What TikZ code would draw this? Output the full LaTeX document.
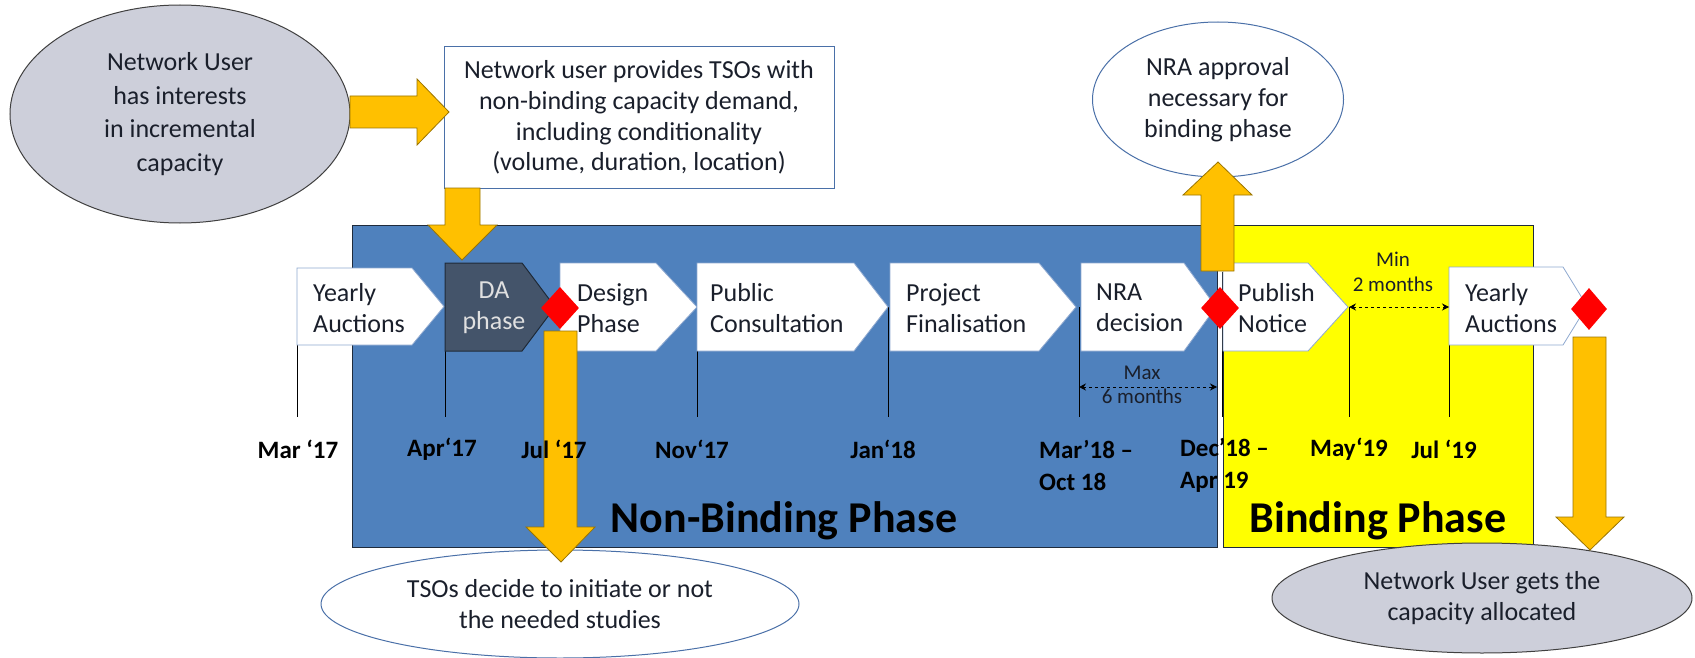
\documentclass[tikz,border=0pt]{standalone}
\usepackage{fontspec}
\setmainfont{Carlito}
\usetikzlibrary{shapes.geometric,arrows.meta}

\definecolor{nbblue}{HTML}{4F81BD}
\definecolor{bphase}{HTML}{FFFF00}
\definecolor{gold}{HTML}{FFC000}
\definecolor{goldedge}{HTML}{9A7400}
\definecolor{slate}{HTML}{44546A}
\definecolor{slateedge}{HTML}{1F2A38}
\definecolor{lilac}{HTML}{CDCFDA}
\definecolor{outline}{HTML}{4A70A8}
\definecolor{ink}{HTML}{1A1F2B}
\definecolor{chevedge}{HTML}{8FA9D0}
\definecolor{paneledge}{HTML}{1F2B3C}

\newcommand\fsz[2]{\fontsize{#1}{#2}\selectfont}
% pentagon step: left x, shoulder x, tip x, top y, bottom y, style
\newcommand\homeplate[6]{%
  \path[#6] (#1,#4) -- (#2,#4) -- (#3,{(#4+#5)/2}) -- (#2,#5) -- (#1,#5) -- cycle;}

\begin{document}
\begin{tikzpicture}[x=1pt,y=-1pt,
  every node/.style={text=ink},
  stepbox/.style={fill=white, draw=chevedge, line width=0.8pt, line join=miter},
  chevtxt/.style={font=\fsz{26}{31}, align=left, anchor=west, inner sep=0pt},
  datetxt/.style={font=\bfseries\fsz{25}{32}, text=black, inner sep=0pt},
  smalltxt/.style={font=\fsz{21}{24}, align=center, inner sep=0pt},
  phasetxt/.style={font=\bfseries\fsz{44}{50}, text=black, inner sep=0pt},
  bubble/.style={ellipse, inner sep=0pt, font=\fsz{26}{31}, align=center, line width=1pt},
  blockarrow/.style={fill=gold, draw=goldedge, line width=0.8pt, line join=miter},
  gate/.style={diamond, fill=red, draw=none, inner sep=0pt, minimum width=38pt, minimum height=42pt},
  tick/.style={draw=black, line width=1pt},
  span/.style={dashed, line width=1pt, {Stealth[length=7pt,width=7pt]}-{Stealth[length=7pt,width=7pt]}}
]
\useasboundingbox (0,0) rectangle (1695,658);

% phase panels
\path[fill=nbblue, draw=paneledge, line width=1pt] (352,225) rectangle (1217,547);
\path[fill=bphase, draw=paneledge, line width=1pt] (1223,225) rectangle (1533,547);

% timeline ticks
\foreach \x/\t in {297/268, 445/307, 697/307, 888/307, 1079/307, 1222/272, 1349/307, 1449/307}
  \draw[tick] (\x,\t) -- (\x,417);

% process steps
\homeplate{297}{412}{444}{268}{345}{stepbox}
\homeplate{445}{522}{555}{263}{351}{fill=slate, draw=slateedge, line width=1pt}
\homeplate{560}{656}{697}{263}{351}{stepbox}
\homeplate{697}{854}{888}{263}{351}{stepbox}
\homeplate{890}{1039}{1076}{263}{351}{stepbox}
\homeplate{1081}{1184}{1216}{263}{351}{stepbox}
\homeplate{1223}{1308}{1348}{263}{351}{stepbox}
\homeplate{1449}{1563}{1587}{267}{345}{stepbox}

\node[chevtxt] (ya1) at (313,308) {Yearly\\Auctions};
\node[chevtxt, anchor=center, align=center, text=black!12] (da) at (494,308) {DA\\phase};
\node[chevtxt] (design) at (577,308) {Design\\Phase};
\node[chevtxt] (public) at (710,308) {Public\\Consultation};
\node[chevtxt] (project) at (906,308) {Project\\Finalisation};
\node[chevtxt] (nradec) at (1096,308) {NRA\\decision};
\node[chevtxt] (publish) at (1238,308) {Publish\\Notice};
\node[chevtxt] (ya2) at (1465,308) {Yearly\\Auctions};

% duration spans
\coordinate (maxL) at (1079,387);
\coordinate (maxR) at (1217,387);
\draw[span] (maxL) -- (maxR);
\node[smalltxt] (maxlbl) at (1142,385) {Max\\6 months};
\coordinate (minL) at (1349,307);
\coordinate (minR) at (1449,307);
\draw[span] (minL) -- (minR);
\node[smalltxt, font=\fsz{21}{25}] (minlbl) at (1393,272) {Min\\2 months};

% phase titles
\node[phasetxt] (nbp) at (784,521) {Non-Binding Phase};
\node[phasetxt] (bp) at (1378,521) {Binding Phase};

% callouts
\node[bubble, fill=lilac, draw=black!75, minimum width=340pt, minimum height=218pt,
      font=\fsz{26}{33.5}] (user) at (180,114) {Network User\\has interests\\in incremental\\capacity};
\node[draw=outline, line width=1pt, fill=white, minimum width=390pt, minimum height=141pt,
      inner sep=0pt, font=\fsz{26}{30.7}, align=center] (demand) at (639,117.5)
      {Network user provides TSOs with\\non-binding capacity demand,\\including conditionality\\(volume, duration, location)};
\node[bubble, fill=white, draw=outline, minimum width=251pt, minimum height=155pt] (approval)
      at (1218,99.5) {NRA approval\\necessary for\\binding phase};
\node[bubble, fill=white, draw=outline, minimum width=478pt, minimum height=108pt] (tsos)
      at (560,604) {TSOs decide to initiate or not\\the needed studies};
\node[bubble, fill=lilac, draw=black!75, minimum width=420pt, minimum height=110pt] (alloc)
      at (1482,598) {Network User gets the\\capacity allocated};

% block arrows
\path[blockarrow] (350,96) -- (417,96) -- (417,79) -- (449,112) -- (417,145) -- (417,128) -- (350,128) -- cycle;
\path[blockarrow] (445,188) -- (480,188) -- (480,225) -- (497,225) -- (462,260) -- (428,225) -- (445,225) -- cycle;
\path[blockarrow] (1201,271) -- (1201,195) -- (1183,195) -- (1218,162) -- (1252,195) -- (1234,195) -- (1234,271) -- cycle;
\path[blockarrow] (544,331) -- (577,331) -- (577,527) -- (595,527) -- (561,562) -- (526,527) -- (544,527) -- cycle;
\path[blockarrow] (1573,337) -- (1606,337) -- (1606,517) -- (1624,517) -- (1590,550) -- (1556,517) -- (1573,517) -- cycle;

% decision gates
\node[gate] (g1) at (560,308) {};
\node[gate] (g2) at (1220,308) {};
\node[gate, minimum width=36pt] (g3) at (1589,309) {};

% dates, set on top of everything
\node[datetxt] (d1) at (298,449) {Mar ‘17};
\node[datetxt] (d2) at (442,449) {Apr‘17};
\node[datetxt] (d3) at (554,449) {Jul ‘17};
\node[datetxt] (d4) at (692,449) {Nov‘17};
\node[datetxt] (d5) at (883,449) {Jan‘18};
\node[datetxt, anchor=west, align=left] (d6) at (1039,465) {Mar’18 --\\Oct 18};
\node[datetxt, anchor=west, align=left] (d7) at (1180,465) {Dec’18 --\\Apr 19};
\node[datetxt] (d8) at (1349,449) {May‘19};
\node[datetxt] (d9) at (1444,449) {Jul ‘19};

\end{tikzpicture}
\end{document}
